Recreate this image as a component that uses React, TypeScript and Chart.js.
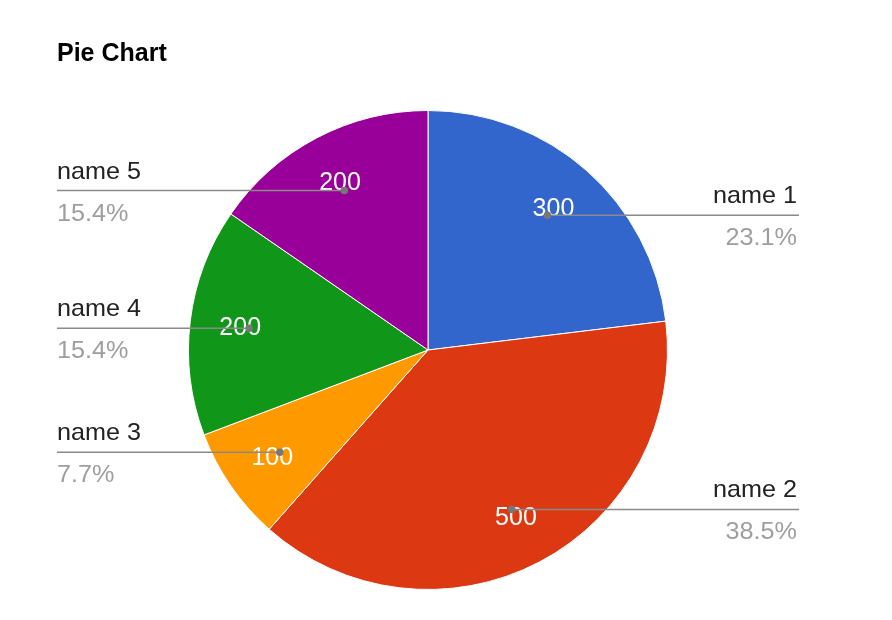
import React, { useEffect, useRef } from "react";
import { Chart, registerables } from "chart.js";

Chart.register(...registerables);

const categories = ["name 1", "name 2", "name 3", "name 4", "name 5"];
const values = [300, 500, 100, 200, 200];
const colors = ["#3366cc", "#dc3912", "#ff9900", "#109618", "#990099"];
const titleText = "Pie Chart";

const labelPlugin = {
  id: "leaderLabels",
  afterDatasetsDraw(chart: any) {
    const ctx = chart.ctx;
    const meta = chart.getDatasetMeta(0);
    const total = values.reduce((a, b) => a + b, 0);
    ctx.save();
    // title
    ctx.fillStyle = "#000";
    ctx.font = "bold 25px 'Liberation Sans', Arial, sans-serif";
    ctx.textAlign = "left";
    ctx.textBaseline = "alphabetic";
    ctx.fillText(titleText, 57, 61);

    meta.data.forEach((arc: any, i: number) => {
      const p = arc.getProps(["startAngle", "endAngle", "x", "y", "outerRadius"], true);
      const mid = (p.startAngle + p.endAngle) / 2;
      const R = p.outerRadius;
      const tx = p.x + Math.cos(mid) * R * 0.79;
      const ty = p.y + Math.sin(mid) * R * 0.79;
      const dx = p.x + Math.cos(mid) * R * 0.752;
      const dy = p.y + Math.sin(mid) * R * 0.752;
      // value label
      ctx.fillStyle = "#fff";
      ctx.font = "25px 'Liberation Sans', Arial, sans-serif";
      ctx.textAlign = "center";
      ctx.textBaseline = "middle";
      ctx.fillText(String(values[i]), tx, ty + 1);
      // leader line
      const right = Math.cos(mid) > 0;
      const endX = right ? 799 : 57;
      ctx.strokeStyle = "#8a8a8a";
      ctx.lineWidth = 1.6;
      ctx.beginPath();
      ctx.moveTo(dx, dy);
      ctx.lineTo(endX, dy);
      ctx.stroke();
      ctx.fillStyle = "#777";
      ctx.beginPath();
      ctx.arc(dx, dy, 3.8, 0, Math.PI * 2);
      ctx.fill();
      // text
      const pct = ((values[i] / total) * 100).toFixed(1) + "%";
      ctx.textBaseline = "alphabetic";
      ctx.font = "24px 'Liberation Sans', Arial, sans-serif";
      const drawScaled = (t: string, x: number, y: number, color: string) => {
        ctx.save();
        ctx.fillStyle = color;
        ctx.translate(x, y);
        ctx.scale(1.05, 1);
        ctx.textAlign = right ? "right" : "left";
        ctx.fillText(t, 0, 0);
        ctx.restore();
      };
      const tX = right ? 797 : 57;
      drawScaled(categories[i], tX, dy - 12, "#222");
      drawScaled(pct, tX, dy + 30, "#9e9e9e");
    });
    ctx.restore();
  },
};

export default function App() {
  const ref = useRef<HTMLCanvasElement | null>(null);
  useEffect(() => {
    if (!ref.current) return;
    const chart = new Chart(ref.current, {
      type: "pie",
      data: {
        labels: categories,
        datasets: [
          {
            data: values,
            backgroundColor: colors,
            borderColor: "#ffffff",
            borderWidth: 1,
          },
        ],
      },
      options: {
        animation: false,
        responsive: true,
        maintainAspectRatio: false,
        layout: { padding: { top: 110, bottom: 30, left: 188, right: 224 } },
        plugins: {
          legend: { display: false },
          tooltip: { enabled: false },
          title: { display: false },
        },
      },
      plugins: [labelPlugin],
    });
    return () => chart.destroy();
  }, []);
  return (
    <div style={{ position: "fixed", left: 0, top: 0, width: 892, height: 620, background: "#fff" }}>
      <canvas ref={ref} />
    </div>
  );
}
